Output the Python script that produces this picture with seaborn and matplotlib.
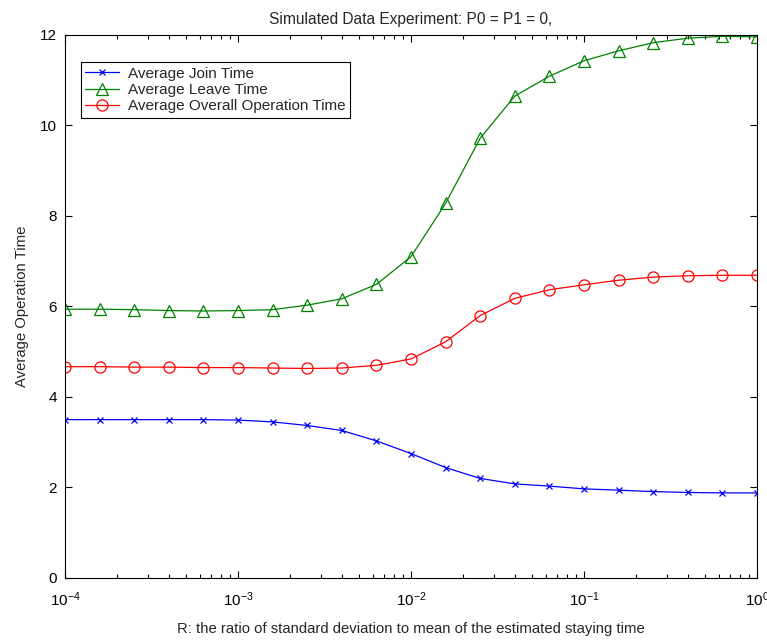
import numpy as np
import pandas as pd
import matplotlib
matplotlib.use('Agg')
import matplotlib.pyplot as plt
import seaborn as sns

# === Datos ===
exponentes = [-4.0, -3.8, -3.6, -3.4, -3.2, -3.0, -2.8, -2.6, -2.4, -2.2, -2.0,
              -1.8, -1.6, -1.4, -1.2, -1.0, -0.8, -0.6, -0.4, -0.2, 0.0]
join_time = [3.50, 3.50, 3.50, 3.50, 3.50, 3.49, 3.45, 3.37, 3.26, 3.03, 2.75,
             2.44, 2.20, 2.08, 2.03, 1.97, 1.94, 1.91, 1.89, 1.88, 1.88]
leave_time = [5.94, 5.94, 5.93, 5.91, 5.90, 5.91, 5.93, 6.03, 6.17, 6.49, 7.10,
              8.28, 9.72, 10.65, 11.09, 11.43, 11.65, 11.83, 11.93, 11.97, 11.96]
overall_time = [4.67, 4.67, 4.66, 4.66, 4.65, 4.65, 4.64, 4.63, 4.64, 4.70, 4.84,
                5.22, 5.80, 6.18, 6.37, 6.48, 6.58, 6.65, 6.68, 6.69, 6.69]

r_valores = [10 ** e for e in exponentes]

df = pd.DataFrame({'R': r_valores, 'join': join_time,
                   'leave': leave_time, 'overall': overall_time})

sns.set_theme(style='ticks')
plt.rcParams['font.family'] = ['Liberation Sans', 'DejaVu Sans']
plt.rcParams['mathtext.default'] = 'regular'

fig = plt.figure(figsize=(7.67, 6.41), dpi=100)
ax = fig.add_axes([0.0847, 0.0983, 0.9023, 0.8471])

series = [
    ('join', 'Average Join Time', (0, 0, 1), 'x', 5),
    ('leave', 'Average Leave Time', (0, 0.5, 0), '^', 8),
    ('overall', 'Average Overall Operation Time', (1, 0, 0), 'o', 8),
]
for col, etiqueta, color, marcador, tam in series:
    sns.lineplot(data=df, x='R', y=col, ax=ax, color=color, marker=marcador,
                 markersize=tam, mec=color, mfc='none', mew=0.9,
                 linewidth=0.9, label=etiqueta)

ax.set_xscale('log')
ax.set_xlim(1e-4, 1)
ax.set_ylim(0, 12)
ax.set_yticks(range(0, 13, 2))

ax.tick_params(which='both', direction='in', top=True, right=True,
               labelsize=11, colors='black', width=0.8)
ax.tick_params(which='major', length=5)
ax.tick_params(which='minor', length=3)
ax.tick_params(axis='x', which='both', pad=9)
ax.tick_params(axis='y', which='both', pad=6)
for s in ax.spines.values():
    s.set_linewidth(0.8)
    s.set_color('black')

ax.set_title('Simulated Data Experiment: P0 = P1 = 0,', fontsize=11.2, pad=8)
ax.set_xlabel('R: the ratio of standard deviation to mean of the estimated staying time',
              fontsize=10.7, labelpad=9)
ax.set_ylabel('Average Operation Time', fontsize=10.7, labelpad=8)

leg = ax.legend(loc='upper left', bbox_to_anchor=(0.023, 0.95), borderaxespad=0,
                fontsize=11, frameon=True, fancybox=False, handlelength=2.2,
                labelspacing=0.15, borderpad=0.3, handletextpad=0.6)
leg.get_frame().set_edgecolor('black')
leg.get_frame().set_linewidth(0.8)
leg.get_frame().set_alpha(1)

fig.savefig('out.png', dpi=100)
